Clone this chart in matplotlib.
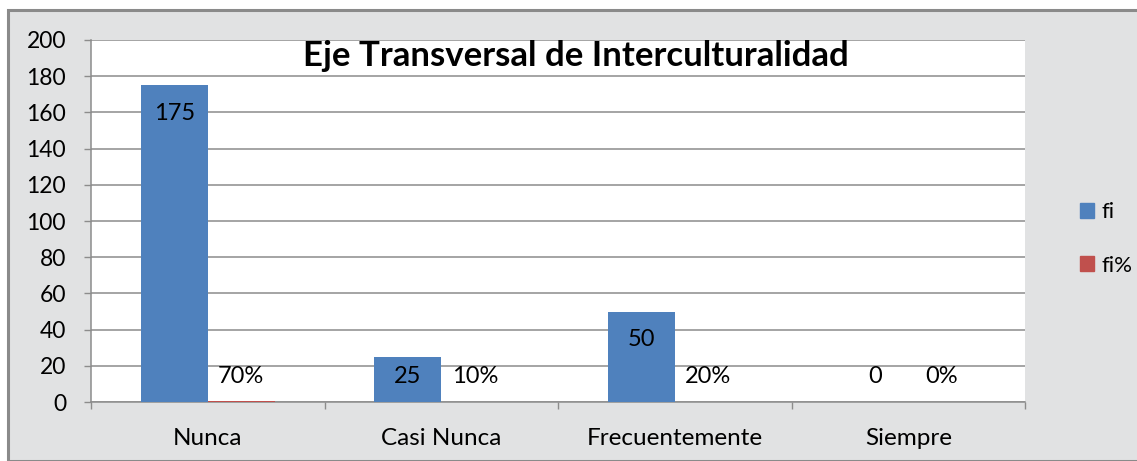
import matplotlib
matplotlib.use("Agg")
import matplotlib.pyplot as plt
import numpy as np
from matplotlib.patches import Rectangle

categories = ["Nunca", "Casi Nunca", "Frecuentemente", "Siempre"]
fi = [175, 25, 50, 0]
fi_pct = [0.70, 0.10, 0.20, 0.0]
fi_labels = ["175", "25", "50", "0"]
pct_labels = ["70%", "10%", "20%", "0%"]
yticks = [0, 20, 40, 60, 80, 100, 120, 140, 160, 180, 200]

BLUE = "#4F81BD"
RED = "#C0504D"
FONT = "Lato"

W, H = 1137, 461
fig = plt.figure(figsize=(W / 100, H / 100), dpi=100)
fig.patch.set_facecolor("white")

# marble-like background panel
bg = Rectangle((8 / W, 0), 1.2, (H - 10.5) / H, transform=fig.transFigure,
               facecolor="#e1e2e3", edgecolor="#8a8a8a", linewidth=2.2, zorder=-10)
fig.patches.append(bg)

ax = fig.add_axes([91 / W, 1 - 402 / H, (1025 - 91) / W, (402 - 40) / H])
ax.set_facecolor("white")

x = np.arange(len(categories))
bw = 0.287
ax.bar(x - bw / 2, fi, bw, color=BLUE, label="fi", zorder=3)
ax.bar(x + bw / 2, fi_pct, bw, color=RED, label="fi%", zorder=3)

for xi, v, lab in zip(x, fi, fi_labels):
    ax.text(xi - bw / 2, max(v - 15.5, 14), lab, ha="center", va="center",
            fontsize=17, family=FONT, zorder=4)
for xi, v, lab in zip(x, fi_pct, pct_labels):
    ax.text(xi + bw / 2, max(v - 15.5, 14), lab, ha="center", va="center",
            fontsize=17, family=FONT, zorder=4)

ax.set_xlim(-0.5, len(categories) - 0.5)
ax.set_ylim(0, 200)
ax.set_yticks(yticks)
ax.set_yticklabels([str(t) for t in yticks], fontsize=16.5, family=FONT)
ax.yaxis.grid(True, color="#8c8c8c", linewidth=1.1, zorder=0)
ax.set_axisbelow(True)

ax.set_xticks(x)
ax.set_xticklabels(categories, fontsize=17.5, family=FONT)
ax.tick_params(axis="x", length=0, pad=19)
ax.set_xticks(np.arange(-0.5, len(categories), 1.0), minor=True)
ax.tick_params(axis="x", which="minor", length=5, color="#8c8c8c", width=1)
ax.tick_params(axis="y", length=5, color="#8c8c8c", width=1, pad=13)

for s in ["top", "right"]:
    ax.spines[s].set_visible(False)
for s in ["left", "bottom"]:
    ax.spines[s].set_color("#8c8c8c")
    ax.spines[s].set_linewidth(1.1)

fig.text(576 / W, 1 - 56 / H, "Eje Transversal de Interculturalidad",
         ha="center", va="center", fontsize=25, fontweight="bold", family=FONT)

handles = [Rectangle((0, 0), 1, 1, color=BLUE), Rectangle((0, 0), 1, 1, color=RED)]
leg = fig.legend(handles, ["fi", "fi%"], loc="center left",
                 bbox_to_anchor=(1060 / W, 1 - 239 / H), frameon=False,
                 prop={"family": FONT, "size": 16}, handlelength=0.65,
                 handleheight=0.65, handletextpad=0.3, labelspacing=1.5)

fig.savefig("out.png", dpi=100, facecolor=fig.get_facecolor())
